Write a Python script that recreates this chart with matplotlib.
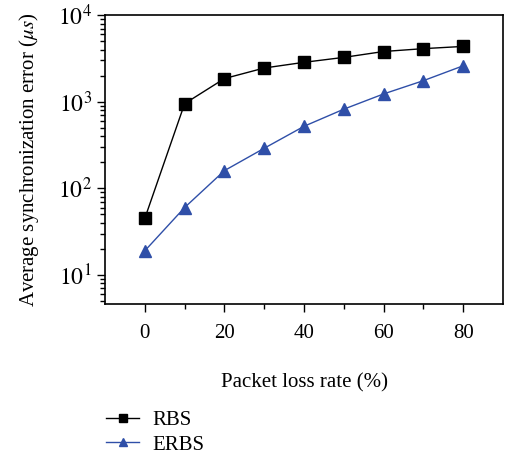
import matplotlib
matplotlib.use('Agg')
import matplotlib.pyplot as plt

plt.rcParams['font.family'] = 'Liberation Serif'
plt.rcParams['mathtext.fontset'] = 'stix'

loss_rate = [0, 10, 20, 30, 40, 50, 60, 70, 80]
rbs = [45, 950, 1850, 2450, 2850, 3250, 3800, 4100, 4350]
erbs = [19, 60, 160, 290, 520, 820, 1230, 1750, 2600]

fig = plt.figure(figsize=(5.05, 4.58), dpi=100)
ax = fig.add_axes([0.208, 0.336, 0.788, 0.631])

ax.plot(loss_rate, rbs, color='black', marker='s', markersize=8, linewidth=1.0, label='RBS')
ax.plot(loss_rate, erbs, color='#2f4fa8', marker='^', markersize=8, linewidth=1.0, label='ERBS')

ax.set_yscale('log')
ax.set_ylim(4.6, 1e4)
ax.set_xlim(-10, 90)
ax.set_xticks([0, 20, 40, 60, 80])
ax.set_xticks([10, 30, 50, 70], minor=True)
ax.set_yticks([10, 100, 1000, 10000])
ax.set_yticklabels([r'$10^1$', r'$10^2$', r'$10^3$', r'$10^4$'])

ax.tick_params(axis='both', which='major', direction='out', length=6, width=1, labelsize=15)
ax.tick_params(axis='y', which='major', labelsize=17)
ax.tick_params(axis='both', which='minor', direction='out', length=3.5, width=1)
ax.tick_params(axis='x', which='major', pad=8)
for s in ax.spines.values():
    s.set_linewidth(1.2)

ax.set_xlabel('Packet loss rate (%)', fontsize=15, labelpad=22)
ax.set_ylabel(r'Average synchronization error ($\mu s$)', fontsize=15, labelpad=12)

fig.legend(loc='upper left', bbox_to_anchor=(0.21, 0.104), frameon=False, fontsize=15,
           handlelength=1.6, handletextpad=0.6, labelspacing=0.25, borderpad=0,
           borderaxespad=0, markerscale=0.75)

fig.savefig('out.png', dpi=100)
